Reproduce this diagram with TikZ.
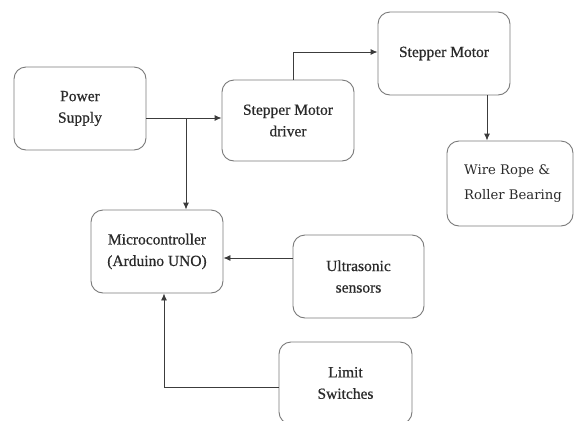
\documentclass[tikz,border=0pt]{standalone}
\usepackage{fontspec}
\setmainfont{Liberation Serif}[FakeBold=0.6]
\newfontfamily\wrfont{DejaVu Serif}
\usetikzlibrary{arrows.meta}
\definecolor{boxc}{HTML}{7A7A7A}
\definecolor{linec}{HTML}{3C3C3C}
\definecolor{txtc}{HTML}{2A2A2A}
\begin{document}
\begin{tikzpicture}[x=1pt,y=-1pt,
  blk/.style={draw=boxc, line width=0.9pt, rounded corners=12pt, align=center,
    text=txtc, font=\fontsize{15.5}{21.5}\selectfont, inner sep=0pt},
  conn/.style={draw=linec, line width=0.9pt, -{Latex[length=7pt,width=6pt]}}]
\clip (0,0) rectangle (574,421);
\fill[white] (0,0) rectangle (574,421);
\node[blk, minimum width=132pt, minimum height=83pt] (ps) at (80,108.5) {Power\\Supply};
\node[blk, minimum width=132pt, minimum height=81pt] (drv) at (288,120.5) {Stepper Motor\\driver};
\node[blk, minimum width=132pt, minimum height=83pt] (sm) at (444,53.5) {Stepper Motor};
\node[blk, minimum width=126pt, minimum height=85pt, font=\wrfont\fontsize{13.2}{25}\selectfont, align=left] (wr) at (510,183.5) {\hspace*{6pt}Wire Rope \&\\\hspace*{6pt}Roller Bearing};
\node[blk, minimum width=132pt, minimum height=83pt] (mc) at (157,251.5) {Microcontroller\\(Arduino UNO)};
\node[blk, minimum width=131pt, minimum height=83pt] (us) at (358.5,276.5) {Ultrasonic\\sensors};
\node[blk, minimum width=133pt, minimum height=82pt] (ls) at (345.5,383) {Limit\\Switches};
\coordinate (j) at (186,118);
\coordinate (k) at (293,52);
\coordinate (m) at (487,0);
\coordinate (u) at (0,258);
\coordinate (l) at (164,387);
\draw[conn] (ps.east |- j) -- (drv.west |- j);
\draw[conn] (j) -- (j |- mc.north);
\draw[conn] (k |- drv.north) -- (k) -- (k -| sm.west);
\draw[conn] (m |- sm.south) -- (m |- wr.north);
\draw[conn] (us.west |- u) -- (mc.east |- u);
\draw[conn] (ls.west |- l) -- (l) -- (l |- mc.south);
\end{tikzpicture}
\end{document}
